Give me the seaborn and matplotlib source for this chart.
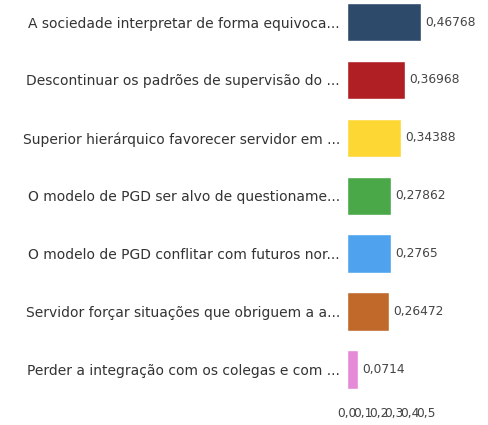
import pandas as pd
import seaborn as sns
import matplotlib.pyplot as plt

labels = [
    "A sociedade interpretar de forma equivoca...",
    "Descontinuar os padrões de supervisão do ...",
    "Superior hierárquico favorecer servidor em ...",
    "O modelo de PGD ser alvo de questioname...",
    "O modelo de PGD conflitar com futuros nor...",
    "Servidor forçar situações que obriguem a a...",
    "Perder a integração com os colegas e com ...",
]
values = [0.46768, 0.36968, 0.34388, 0.27862, 0.2765, 0.26472, 0.0714]
colors = ["#2E4A6B", "#B01F24", "#FDD835", "#4AA849", "#4FA3EE", "#C0692A", "#E58AD6"]
xticks = [0, 0.1, 0.2, 0.3, 0.4, 0.5]

df = pd.DataFrame({"item": labels, "valor": values})

sns.set_style("white")
plt.rcParams['font.family'] = ['DejaVu Sans']

fig = plt.figure(figsize=(4.88, 4.25), dpi=100)
ax = fig.add_axes([347 / 488, 1 - 400 / 425, 79 / 488, 400 / 425])

sns.barplot(data=df, x="valor", y="item", hue="item", palette=colors,
            saturation=1, legend=False, width=0.67, ax=ax, orient="h")

for cont, v in zip(ax.containers, values):
    ax.bar_label(cont, labels=[str(v).replace(".", ",")], padding=3,
                 fontsize=8.8, color="#444444")

ax.set_xlim(0, 0.5)
ax.set_ylim(6.52, -0.38)
ax.set_xticks(xticks)
ax.set_xticklabels([("%.1f" % t).replace(".", ",") for t in xticks], fontsize=8.8, color="#444444")
ax.tick_params(axis="x", length=3, color="#dddddd", pad=2)
ax.tick_params(axis="y", length=0, pad=5, labelsize=10, labelcolor="#333333")
ax.set_xlabel("")
ax.set_ylabel("")
for s in ax.spines.values():
    s.set_visible(False)

fig.savefig("out.png", dpi=100)
